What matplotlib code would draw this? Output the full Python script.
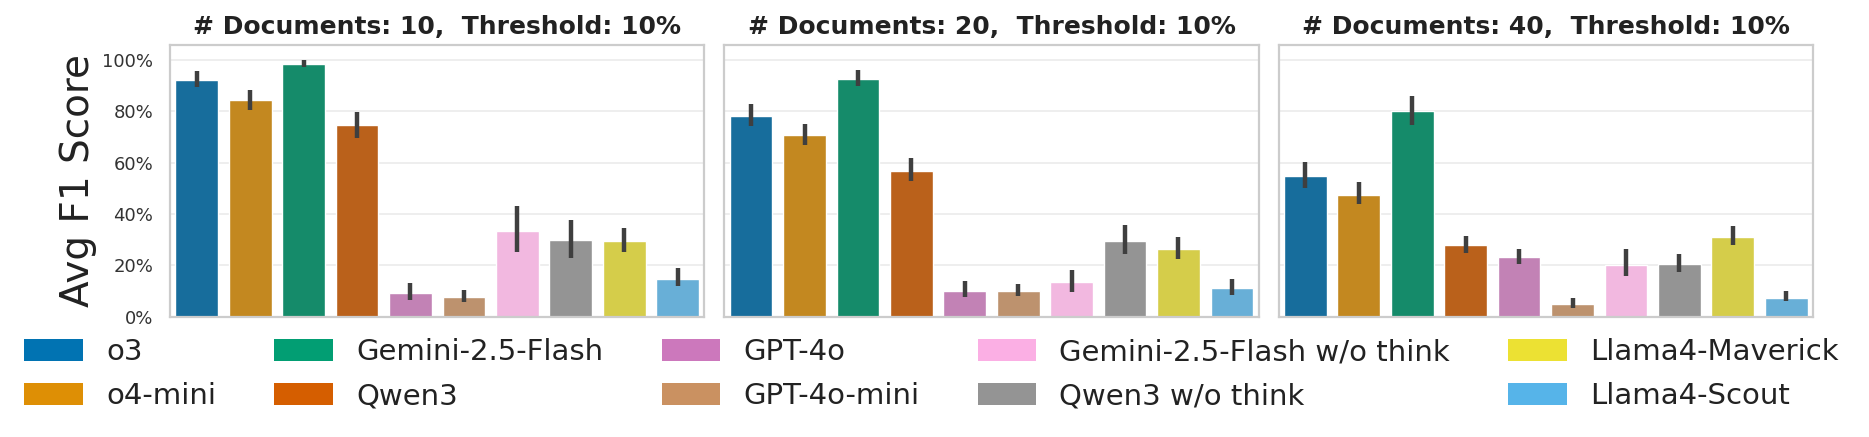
import matplotlib
matplotlib.use("Agg")
import matplotlib.pyplot as plt
from matplotlib.patches import Patch
from matplotlib.ticker import PercentFormatter
import seaborn as sns

models = ["o3", "o4-mini", "Gemini-2.5-Flash", "Qwen3", "GPT-4o", "GPT-4o-mini",
          "Gemini-2.5-Flash w/o think", "Qwen3 w/o think", "Llama4-Maverick", "Llama4-Scout"]
colors = ["#0173B2", "#DE8F05", "#029E73", "#D55E00", "#CC78BC", "#CA9161",
          "#FBAFE4", "#949494", "#ECE133", "#56B4E9"]
n_docs = [10, 20, 40]

# mean F1 (%) per model, one list per panel
f1_10 = [92.3, 84.3, 98.5, 74.6, 9.4, 7.6, 33.4, 29.9, 29.7, 14.8]
f1_20 = [78.3, 70.6, 92.5, 56.9, 10.2, 10.1, 13.4, 29.7, 26.5, 11.4]
f1_40 = [54.8, 47.6, 80.3, 27.9, 23.2, 5.0, 20.3, 20.4, 31.1, 7.5]

# confidence interval bounds (%)
lo_10 = [89.4, 80.4, 97.2, 69.7, 6.7, 5.7, 25.2, 22.8, 25.2, 12.0]
hi_10 = [95.5, 88.4, 100.0, 79.7, 13.2, 10.3, 43.0, 37.8, 34.5, 19.0]
lo_20 = [74.3, 67.0, 89.8, 53.0, 7.6, 8.1, 9.7, 24.3, 22.6, 8.6]
hi_20 = [82.8, 75.0, 96.0, 61.7, 13.8, 12.6, 18.1, 35.9, 31.0, 14.8]
lo_40 = [50.1, 44.1, 74.5, 24.9, 20.6, 3.6, 15.7, 17.4, 27.9, 6.1]
hi_40 = [60.1, 52.3, 86.1, 31.5, 26.5, 7.2, 26.5, 24.4, 35.4, 9.9]

means = [f1_10, f1_20, f1_40]
lows = [lo_10, lo_20, lo_40]
highs = [hi_10, hi_20, hi_40]

sns.set_style("whitegrid")
plt.rcParams["font.family"] = ["DejaVu Sans"]

fig, axes = plt.subplots(1, 3, figsize=(18.69, 4.37), dpi=100, sharey=True)
fig.subplots_adjust(left=0.091, right=0.970, top=0.897, bottom=0.275, wspace=0.0375)

bar_colors = [sns.desaturate(c, 0.75) for c in colors]
x = list(range(len(models)))

for ax, n, m, lo, hi in zip(axes, n_docs, means, lows, highs):
    ax.bar(x, m, width=0.8, color=bar_colors, zorder=2)
    ax.vlines(x, lo, hi, color="#3f3f3f", lw=3.2, zorder=3)
    ax.set_xlim(-0.5, len(models) - 0.5)
    ax.set_ylim(0, 105.8)
    ax.set_xticks([])
    ax.set_yticks([0, 20, 40, 60, 80, 100])
    ax.yaxis.set_major_formatter(PercentFormatter(decimals=0))
    ax.grid(axis="x", visible=False)
    ax.grid(axis="y", color="#ebebeb", lw=1.2)
    ax.set_axisbelow(True)
    for s in ax.spines.values():
        s.set_color("#cccccc")
        s.set_linewidth(1.6)
    ax.set_title(f"# Documents: {n},  Threshold: 10%", fontsize=18, fontweight="bold",
                 pad=8, color="#222222")
    ax.tick_params(axis="y", labelsize=13, pad=12, length=0, labelcolor="#333333")

axes[0].set_ylabel("Avg F1 Score", fontsize=28, color="#222222")

handles = [Patch(facecolor=c, edgecolor="none") for c in colors]
fig.legend(handles, models, loc="upper left", bbox_to_anchor=(-0.001, 0.286), ncol=5,
           frameon=False, fontsize=21, handlelength=2.0, handleheight=0.75,
           columnspacing=2.0, labelspacing=0.55, handletextpad=0.8, labelcolor="#222222")

fig.savefig("out.png", dpi=100)
